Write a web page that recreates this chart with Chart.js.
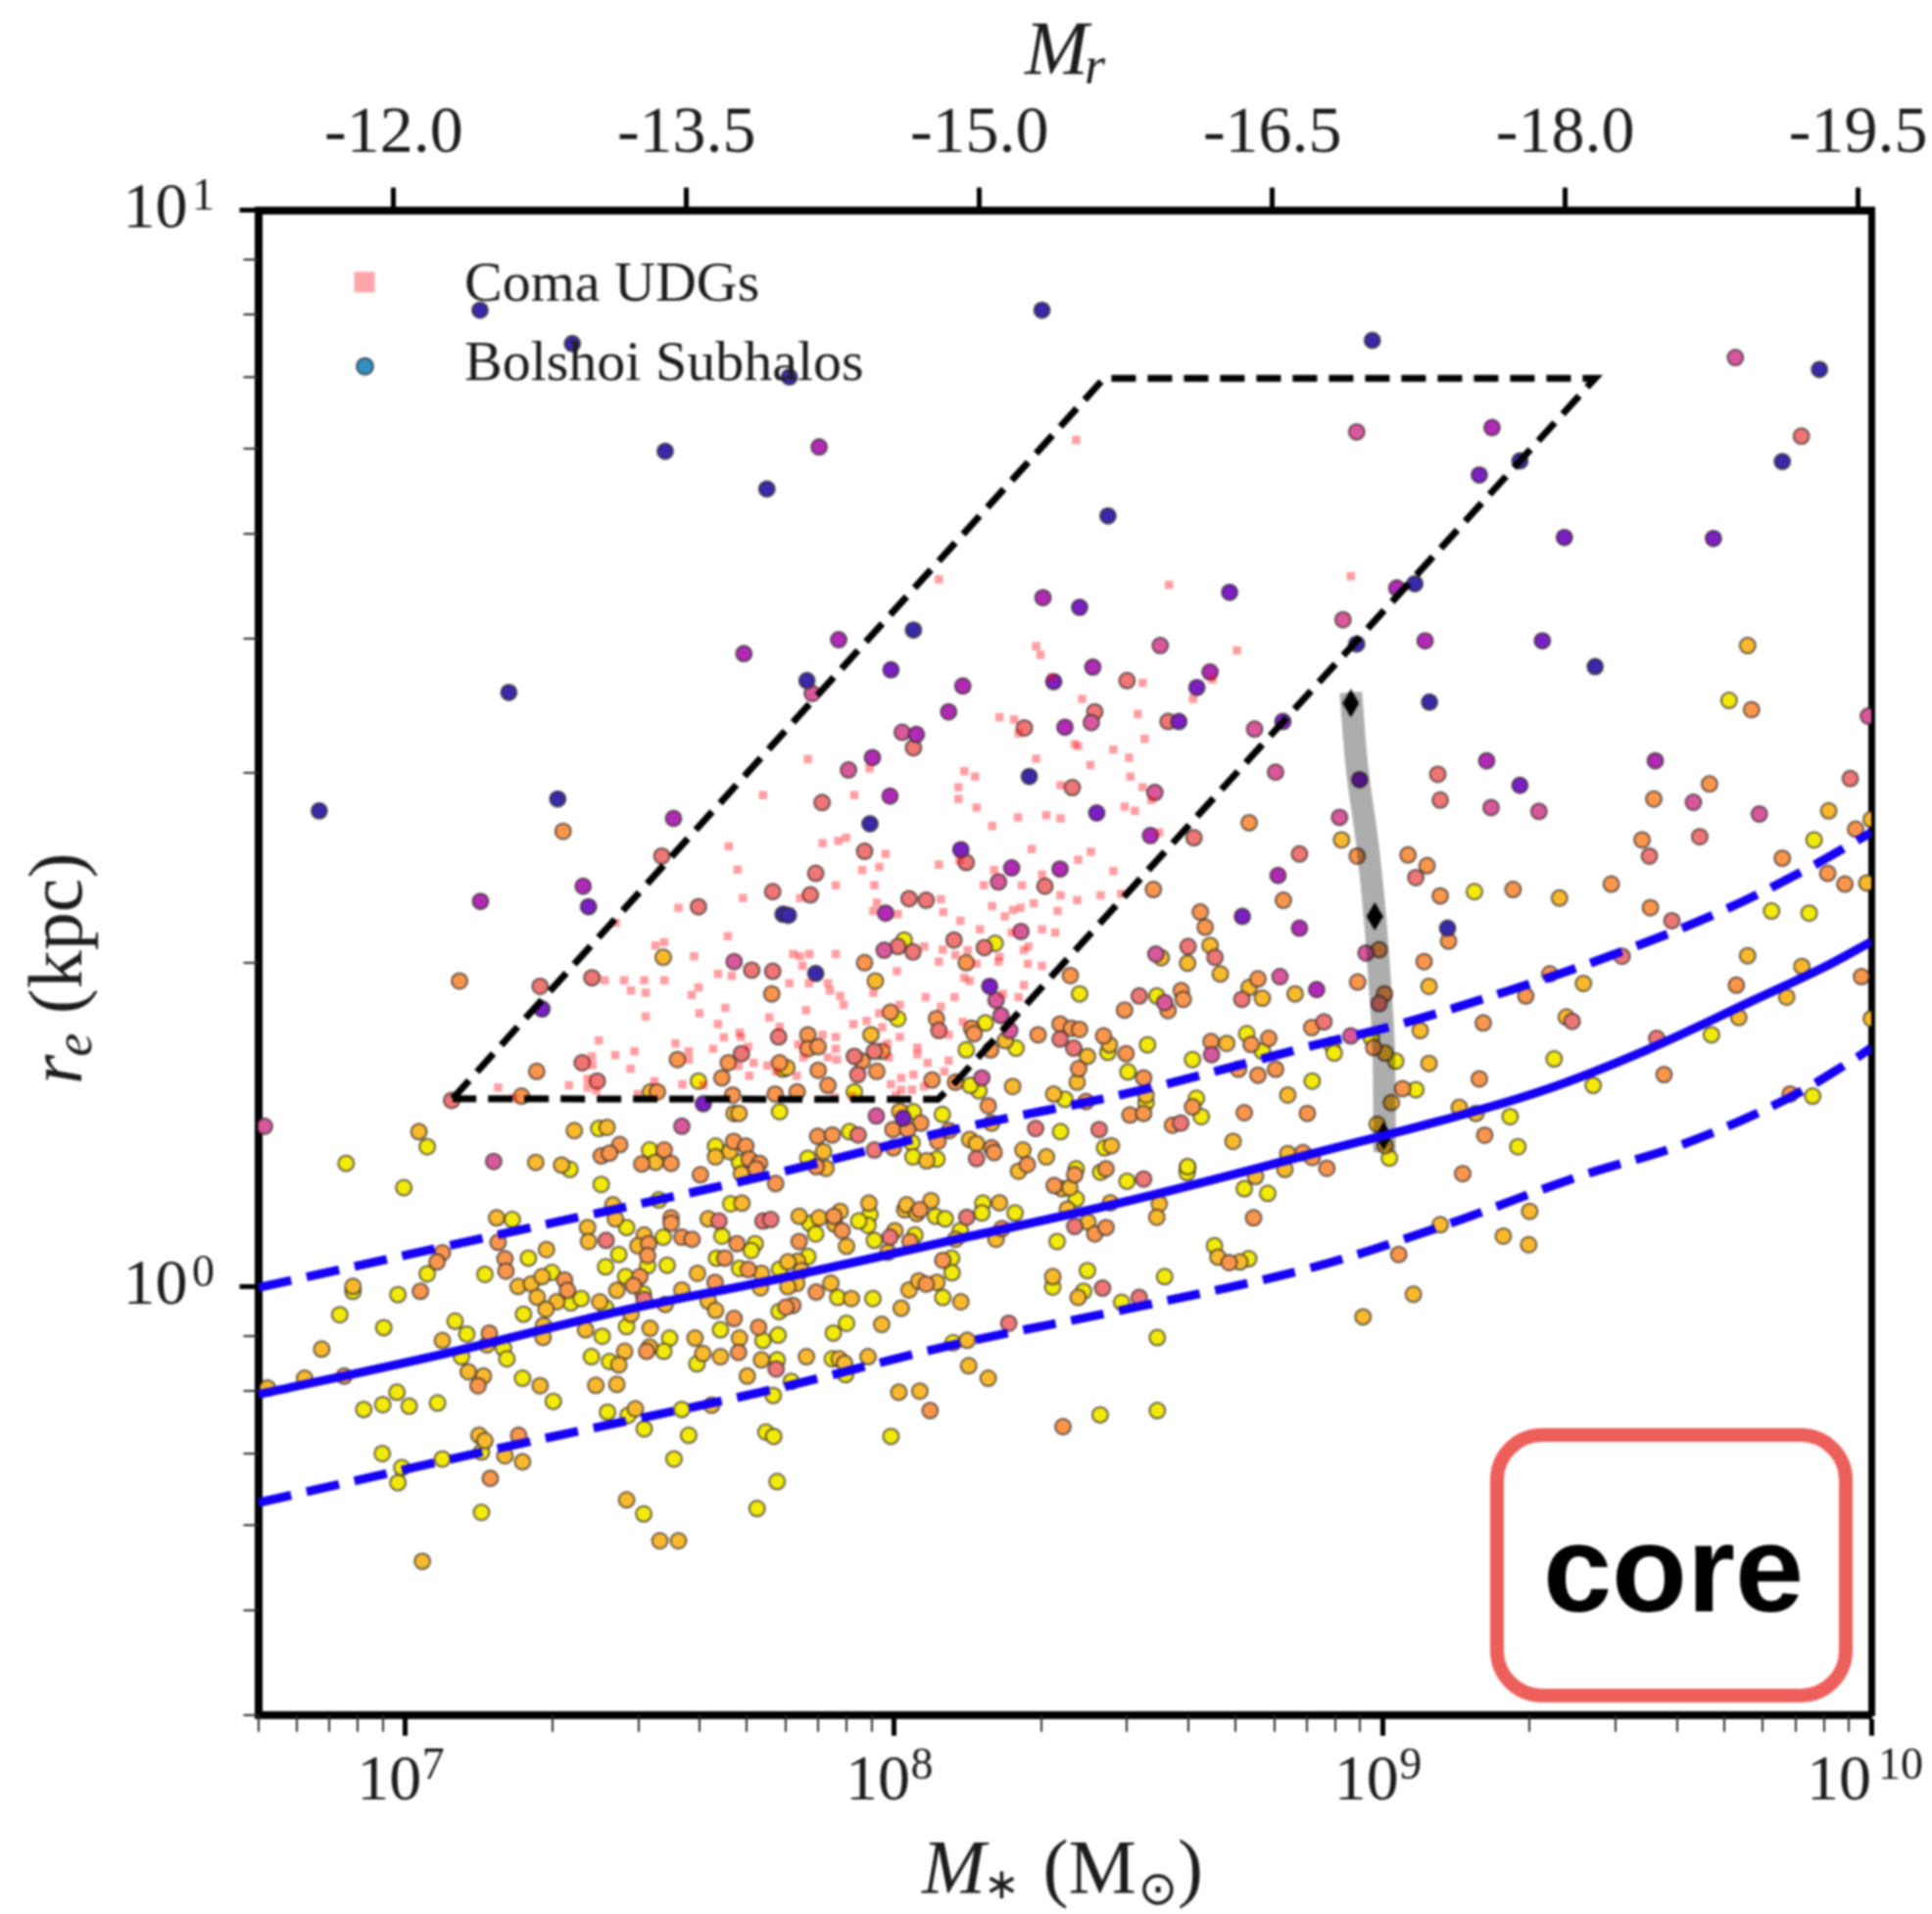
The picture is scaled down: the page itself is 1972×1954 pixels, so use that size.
<!DOCTYPE html>
<html><head><meta charset="utf-8">
<style>html,body{margin:0;padding:0;background:#fff}canvas{display:block;filter:blur(0.8px)}</style>
<script src="https://cdn.jsdelivr.net/npm/chart.js@4/dist/chart.umd.js"></script>
</head><body><canvas id="c" width="1972" height="1954"></canvas>
<script>
// All pairs are [log10 stellar mass, log10 effective radius]
const indigo=[[7.153,.907],[7.342,.876],[7.532,.776],[7.740,.741],[7.786,.845],[8.303,.907],[8.438,.716],[8.040,.610],[7.822,.563],[8.979,.879],[9.281,.767],[9.894,.852],[9.818,.7665],[9.066,.653],[8.947,.597],[9.435,.576],[7.212,.552],[6.824,.442],[7.312,.453],[7.773,.346],[7.951,.430],[7.784,.345],[8.277,.474],[9.096,.543],[9.133,.333],[7.840,.291]];
const purple=[[8.380,.631],[8.687,.645],[7.994,.573],[8.327,.562],[8.620,.5565],[9.198,.754],[9.372,.696],[9.677,.695],[9.327,.600],[7.375,.353],[7.280,.258],[7.610,.170],[8.137,.406],[8.583,.525],[8.415,.440],[8.796,.525],[8.713,.344],[8.196,.279],[8.019,.1565],[9.281,.4657],[8.953,.471]];
const magenta=[[7.693,.588],[7.847,.780],[8.305,.640],[7.887,.601],[8.407,.5755],[8.647,.571],[8.141,.558],[9.224,.798],[9.029,.649],[9.087,.600],[7.549,.435],[7.364,.372],[7.154,.358],[8.112,.534],[8.046,.513],[7.956,.4915],[7.992,.4557],[7.983,.347],[8.241,.389],[8.340,.388],[8.350,.5197],[8.525,.419],[8.786,.382],[8.830,.333],[8.865,.276],[9.213,.4885],[9.558,.4885]];
const pink=[[8.545,.5955],[8.947,.794],[9.722,.863],[8.919,.6195],[7.673,.302],[6.712,.149],[7.181,.1164],[7.566,.149],[7.833,.551],[8.017,.515],[7.907,.480],[8.214,.376],[8.404,.524],[8.534,.459],[8.738,.518],[8.781,.478],[8.260,.330],[7.980,.3126],[8.209,.266],[8.219,.252],[8.536,.309],[8.790,.288],[8.554,.264],[8.237,.238],[8.650,.2156],[7.964,.1586],[8.180,.194],[9.222,.445],[9.320,.4415],[8.912,.436],[9.636,.450],[9.771,.439],[8.966,.310],[8.935,.233],[9.994,.530]];
const salmon=[[8.477,.563],[9.857,.790],[7.525,.400],[7.600,.353],[7.752,.367],[7.709,.294],[7.752,.293],[7.276,.279],[7.382,.287],[7.764,.232],[7.688,.2165],[7.362,.208],[7.393,.191],[7.095,.173],[7.411,.043],[7.489,-.012],[7.642,.061],[7.732,.061],[7.748,.0624],[7.759,-.0765],[8.040,.5006],[7.853,.4497],[7.940,.4045],[7.840,.384],[7.829,.364],[8.031,.3605],[8.066,.359],[8.148,.394],[8.309,.372],[8.267,.519],[8.411,.534],[8.561,.525],[8.365,.4636],[8.614,.417],[8.830,.402],[8.123,.322],[8.185,.315],[8.008,.316],[8.039,.311],[8.602,.316],[8.657,.306],[8.712,.267],[8.502,.270],[8.092,.238],[8.340,.230],[8.368,.2216],[7.926,.197],[7.919,.214],[7.960,.2186],[8.587,.152],[8.290,.147],[8.420,.146],[7.927,.141],[7.960,.127],[8.169,.119],[8.511,.100],[8.149,.0645],[8.370,.056],[7.992,.046],[8.235,-.034],[8.427,-.0013],[8.502,-.010],[8.880,.246],[9.113,.476],[9.118,.452],[9.957,.472],[9.649,.418],[9.546,.400],[9.068,.380],[9.592,.340],[9.490,.307],[8.993,.263],[9.388,.2465],[9.561,.2307]];
const orange=[[7.323,.423],[7.111,.284],[7.750,.272],[7.661,.208],[7.557,.211],[7.269,.200],[7.648,.194],[7.766,.208],[7.238,.177],[7.516,.181],[7.670,.178],[7.757,.179],[7.439,.132],[7.401,.1215],[7.418,.124],[7.530,.127],[7.484,.114],[7.544,.1146],[7.672,.135],[7.697,.1306],[7.704,.1185],[7.725,.1146],[7.718,.1094],[7.604,.104],[7.758,.0958],[7.544,.064],[7.544,.059],[7.566,.046],[7.587,.044],[7.679,.040],[7.498,.040],[7.496,.029],[7.076,.0315],[7.065,.023],[7.190,.0412],[7.204,.026],[7.206,.0145],[7.031,-.0043],[7.172,-.043],[6.875,-.083],[7.149,-.092],[7.232,-.138],[7.174,-.178],[7.326,.0063],[7.332,-.0034],[7.480,.0094],[7.467,.001],[7.634,.004],[7.673,-.0295],[7.723,-.0376],[7.494,-.060],[7.682,-.061],[7.702,.016],[7.654,.0266],[8.727,.431],[8.531,.369],[8.797,.359],[8.627,.348],[8.637,.334],[7.940,.301],[8.148,.301],[8.361,.289],[8.745,.286],[8.588,.275],[8.592,.267],[8.561,.2565],[8.472,.257],[7.993,.255],[8.087,.249],[8.159,.240],[8.164,.235],[8.198,.220],[8.295,.234],[8.340,.244],[8.363,.240],[8.380,.239],[8.429,.233],[8.475,.2165],[8.378,.2025],[8.511,.194],[8.649,.2277],[8.731,.225],[8.767,.2307],[8.705,.202],[8.745,.1965],[8.781,.202],[8.855,.2407],[8.393,.172],[8.193,.168],[8.611,.167],[8.483,.1595],[8.511,.161],[8.717,.1616],[8.846,.161],[8.570,.150],[8.055,.152],[7.998,.146],[8.028,.146],[8.113,.145],[8.126,.190],[8.078,.192],[7.865,.187],[7.802,.181],[7.845,.201],[7.965,.200],[7.935,.2095],[7.976,.2186],[7.824,.234],[7.824,.221],[7.845,.223],[7.844,.1397],[7.874,.141],[7.841,.1115],[7.999,.129],[8.090,.135],[8.200,.129],[8.205,.1246],[8.273,.1134],[8.434,.1094],[8.370,.104],[8.328,.094],[8.837,.1245],[8.856,.120],[8.886,.110],[8.736,.064],[8.411,.049],[8.434,.055],[8.221,.054],[8.053,.0715],[7.877,.0655],[7.894,.052],[7.806,.042],[8.033,.042],[7.841,-.005],[8.066,.0024],[8.100,.0245],[7.793,-.0173],[7.779,-.019],[8.074,-.115],[8.346,-.130],[8.686,.0224],[8.948,.400],[9.755,.536],[9.555,.453],[9.669,.467],[9.531,.415],[9.968,.425],[9.818,.398],[9.052,.401],[9.091,.391],[9.118,.363],[9.267,.369],[9.468,.374],[9.911,.384],[9.946,.374],[9.548,.352],[9.135,.321],[8.993,.313],[9.085,.302],[8.949,.283],[9.342,.2905],[9.724,.280],[9.980,.288],[9.004,.272],[9.293,.270],[9.206,.245],[8.982,.222],[9.576,.197],[9.198,.193],[9.041,.184],[9.209,.1407],[9.164,.105],[9.834,.179],[9.033,.030]];
const gold=[[9.747,.5955],[7.528,.306],[7.502,.181],[7.673,.161],[7.683,.161],[7.028,.144],[7.267,.1155],[7.346,.145],[7.413,.148],[7.320,.113],[7.512,.1155],[7.664,.1255],[7.635,.1206],[7.688,.105],[7.689,.0776],[7.187,.064],[7.425,.076],[7.430,.063],[7.373,.055],[7.375,.042],[7.489,.048],[7.620,.063],[7.476,.038],[7.289,.0345],[6.893,.0003],[6.829,-.058],[7.076,-.050],[7.167,-.054],[6.794,-.085],[6.718,-.094],[7.129,-.079],[7.160,-.083],[7.276,-.092],[7.151,-.138],[7.163,-.143],[7.204,-.157],[7.240,-.1626],[7.035,-.255],[7.471,-.1134],[7.627,-.110],[7.453,-.198],[7.521,-.236],[7.559,-.236],[7.231,.0003],[7.258,.0027],[7.280,.0094],[7.270,-.0097],[7.310,-.014],[7.288,-.021],[7.283,-.036],[7.282,-.047],[7.369,-.040],[7.398,-.014],[7.433,-.0034],[7.532,-.0164],[7.566,-.003],[7.598,.0124],[7.620,-.0134],[7.635,-.022],[7.462,-.0255],[7.501,-.0386],[7.500,-.056],[7.449,-.060],[7.437,-.0725],[7.390,-.0916],[7.433,-.0907],[7.593,-.0477],[7.609,-.062],[7.645,-.065],[7.684,-.0477],[7.729,-.068],[7.700,-.083],[7.729,.0124],[7.727,-.001],[8.547,.3056],[8.647,.317],[8.601,.3005],[7.962,.284],[8.668,.2905],[8.727,.278],[8.821,.272],[8.754,.268],[8.228,.2286],[8.396,.214],[8.441,.2247],[8.375,.190],[7.781,.2035],[7.953,.234],[8.681,.226],[8.243,.186],[8.327,.179],[8.806,.178],[8.516,.178],[8.012,.163],[8.200,.152],[8.694,.135],[8.445,.131],[7.856,.1255],[7.861,.110],[8.067,.117],[8.155,.1367],[8.169,.133],[8.264,.127],[8.312,.1206],[8.255,.1073],[8.344,.091],[8.360,.092],[8.355,.072],[8.443,.078],[8.543,.077],[8.538,.0645],[8.806,.1237],[8.800,.109],[8.740,.1024],[8.397,.060],[8.209,.044],[8.126,.044],[8.216,.078],[8.076,.080],[8.022,.0715],[8.026,.076],[8.047,.068],[7.949,.0776],[7.890,.070],[7.847,.064],[7.806,.0655],[7.879,.058],[7.903,.0376],[8.002,.052],[7.988,.032],[7.803,.0236],[7.783,.023],[7.811,.015],[7.801,.003],[7.783,0],[7.871,.0033],[7.913,-.011],[8.015,-.020],[8.031,-.003],[8.051,.0054],[8.088,.004],[8.137,-.014],[7.975,-.035],[7.821,-.065],[7.888,-.067],[7.899,-.071],[7.947,-.065],[8.150,-.0498],[8.153,-.0734],[8.193,-.085],[8.010,-.098],[8.053,-.097],[8.325,.0094],[8.377,-.010],[8.663,.0275],[8.708,.023],[9.913,.442],[8.916,.415],[9.362,.361],[9.991,.375],[9.095,.279],[9.411,.2817],[9.747,.3075],[9.858,.2975],[9.077,.238],[9.005,.217],[9.095,.2074],[9.376,.2505],[9.729,.250],[9.827,.269],[9.018,.171],[9.157,.1665],[9.191,.161],[8.989,.151],[9.005,.131],[10,.434],[10,.249],[9.301,.070],[9.118,.0576],[9.247,.047],[9.299,.039],[9.063,-.007],[8.960,-.028]];
const yellow=[[7.600,.191],[7.773,.202],[7.766,.1625],[7.396,.147],[7.045,.130],[6.879,.1146],[7.337,.109],[7.500,.127],[7.635,.1306],[7.684,.1155],[7.401,.095],[7.666,.077],[6.997,.092],[7.219,.0624],[7.519,.0806],[7.453,.055],[7.528,.046],[7.648,.047],[7.716,.040],[7.708,.0336],[7.496,.0194],[7.536,.020],[7.252,.0266],[7.163,.0115],[7.045,.012],[6.893,-.0043],[6.985,-.0073],[6.866,-.026],[6.956,-.038],[7.102,-.032],[7.126,-.044],[7.201,-.057],[7.208,-.067],[7.115,-.065],[7.240,-.085],[7.303,-.1065],[6.983,-.098],[6.954,-.1095],[6.915,-.114],[7.008,-.111],[7.066,-.108],[7.156,-.1535],[6.953,-.155],[6.993,-.168],[6.985,-.182],[7.076,-.160],[7.156,-.2096],[7.414,-.1165],[7.456,-.1195],[7.489,-.132],[7.566,-.114],[7.580,-.138],[7.550,-.160],[7.488,-.211],[7.720,-.206],[7.761,-.181],[7.738,-.135],[7.754,-.139],[7.753,-.101],[7.300,.0133],[7.339,-.015],[7.360,-.011],[7.242,-.0255],[7.403,-.046],[7.410,-.0195],[7.410,.0185],[7.437,.030],[7.451,.0094],[7.487,-.0064],[7.645,-.040],[7.453,-.037],[7.541,-.0477],[7.529,-.060],[7.381,-.065],[7.418,-.0695],[7.597,-.0716],[7.732,-.050],[7.763,-.045],[7.761,-.068],[7.684,.017],[7.637,.0266],[7.766,.0163],[7.765,-.023],[8.207,.319],[8.021,.322],[8.380,.272],[8.538,.270],[8.008,.249],[8.187,.245],[8.250,.2216],[8.148,.220],[8.438,.2177],[8.519,.2247],[8.479,.1995],[8.611,.211],[8.722,.235],[8.754,.2186],[8.856,.191],[8.896,.2247],[8.350,.174],[8.619,.175],[8.629,.158],[8.516,.171],[8.601,.111],[8.431,.129],[8.341,.144],[8.040,.1625],[8.099,.160],[8.174,.182],[8.156,.187],[7.919,.181],[7.909,.144],[7.824,.1194],[8.037,.1337],[8.039,.1206],[8.088,.1185],[8.373,.1094],[8.423,.1064],[8.373,.0815],[8.477,.098],[8.600,.106],[8.601,.1115],[8.717,.091],[8.765,.0867],[8.334,.042],[8.136,.052],[8.182,.0776],[8.180,.0685],[8.248,.0685],[8.085,.0655],[8.105,.063],[7.951,.067],[7.947,.057],[7.928,.061],[7.828,.059],[7.840,.049],[7.960,.043],[8.043,.048],[7.824,.028],[7.885,-.010],[7.957,-.011],[8.100,-.010],[8.118,.0265],[8.119,.013],[7.903,-.034],[7.876,-.043],[7.874,-.067],[7.901,-.0816],[7.790,-.088],[8.121,-.052],[7.994,-.139],[8.422,-.119],[8.539,-.115],[8.539,-.0473],[8.325,-.0003],[8.396,.015],[8.388,-.0043],[8.466,-.0145],[8.554,.0094],[8.656,.038],[8.726,.026],[9.709,.5446],[9.188,.367],[9.796,.349],[9.873,.347],[9.883,.415],[8.977,.231],[9.027,.2095],[8.901,.217],[9.351,.2116],[9.673,.234],[9.431,.187],[9.068,.183],[9.261,.158],[9.014,.1195],[9.277,.130],[9.880,.177]];
const comaUDGs=[[8.373,.7865],[8.092,.657],[8.563,.652],[8.291,.595],[8.300,.587],[8.702,.591],[8.509,.561],[8.323,.566],[8.652,.564],[8.935,.660],[7.732,.4567],[7.662,.409],[7.680,.3875],[7.691,.361],[7.559,.352],[7.431,.338],[7.660,.3257],[7.512,.317],[7.530,.320],[7.591,.307],[7.640,.2905],[7.668,.2887],[7.408,.2847],[7.448,.2847],[7.489,.2847],[7.530,.2847],[7.462,.275],[7.492,.273],[7.600,.278],[7.586,.271],[7.492,.251],[7.602,.254],[7.655,.259],[7.640,.244],[7.745,.250],[7.766,.2414],[7.396,.2286],[7.430,.215],[7.469,.2186],[7.553,.226],[7.580,.2186],[7.580,.211],[7.630,.221],[7.652,.2317],[7.684,.236],[7.687,.232],[7.702,.223],[7.713,.208],[7.741,.2056],[7.682,.205],[7.704,.196],[7.461,.2025],[7.383,.206],[7.382,.214],[7.190,.185],[7.335,.187],[7.373,.193],[7.373,.185],[7.391,.182],[7.510,.191],[7.567,.188],[7.610,.187],[7.476,.179],[7.222,.175],[7.759,.200],[8.385,.546],[8.612,.546],[8.216,.529],[8.246,.527],[8.255,.514],[8.499,.532],[8.513,.509],[8.370,.504],[8.377,.502],[8.449,.499],[8.481,.4915],[8.291,.4906],[8.402,.4845],[7.824,.490],[7.950,.4815],[8.144,.479],[8.166,.474],[8.484,.474],[8.509,.464],[8.341,.466],[8.132,.464],[8.132,.453],[7.919,.4567],[8.527,.452],[8.169,.445],[8.472,.446],[8.493,.442],[8.254,.436],[8.312,.438],[8.341,.435],[8.201,.428],[8.543,.422],[7.854,.412],[7.886,.414],[7.902,.417],[8.282,.4066],[7.983,.402],[8.403,.404],[8.377,.3966],[8.092,.392],[7.935,.387],[7.970,.390],[8.134,.396],[8.205,.387],[8.449,.386],[8.303,.383],[7.881,.373],[7.960,.373],[8.184,.373],[8.262,.373],[8.341,.3636],[8.423,.3636],[8.465,.365],[8.375,.359],[8.096,.360],[7.808,.361],[7.965,.3567],[8.201,.3535],[8.286,.356],[8.259,.352],[8.244,.350],[8.227,.344],[8.335,.349],[8.101,.348],[8.008,.346],[7.958,.349],[8.136,.340],[8.176,.332],[8.303,.332],[8.330,.329],[8.241,.329],[8.062,.316],[8.275,.316],[8.266,.3126],[8.100,.313],[8.126,.308],[8.151,.3126],[8.216,.3066],[7.794,.309],[7.808,.307],[7.827,.309],[7.881,.309],[8.092,.302],[8.169,.300],[8.214,.302],[8.274,.300],[8.303,.298],[7.813,.298],[8.006,.293],[7.786,.282],[7.826,.282],[7.865,.282],[8.144,.287],[8.155,.284],[7.869,.275],[7.890,.270],[7.897,.262],[7.958,.273],[8.065,.269],[8.124,.269],[8.223,.272],[8.255,.269],[8.266,.280],[8.012,.262],[8.096,.260],[7.820,.257],[7.970,.254],[7.917,.244],[7.944,.247],[7.976,.241],[8.012,.232],[8.141,.246],[8.112,.234],[7.881,.232],[7.854,.234],[7.881,.221],[7.804,.225],[7.987,.226],[8.048,.222],[8.048,.216],[7.865,.213],[7.883,.211],[7.815,.213],[7.990,.213],[8.069,.208],[8.112,.210],[7.801,.196],[8.103,.200],[8.015,.194],[8.040,.197],[7.994,.188],[8.037,.183],[8.015,.183],[8.062,.186],[8.004,.178],[7.879,.176],[7.915,.177]];
const fitMedian=[[6.700,-.100],[7.082,-.062],[7.441,-.0225],[7.770,.008],[8.133,.0445],[8.491,.081],[8.895,.128],[9.113,.1535],[9.327,.182],[9.541,.220],[9.757,.2656],[9.900,.296],[10,.3205]];
const fitUpper=[[6.700,-.0007],[7.226,.0518],[7.727,.102],[8.133,.147],[8.491,.181],[8.849,.223],[9.040,.2445],[9.256,.2747],[9.470,.308],[9.685,.347],[9.864,.3869],[10,.422]];
const fitLower=[[6.700,-.2005],[7.226,-.1467],[7.727,-.098],[8.133,-.0528],[8.491,-.0194],[8.849,.0170],[9.116,.0553],[9.399,.102],[9.613,.132],[9.828,.1746],[9.964,.211],[10,.222]];
const selectionBox=[[7.097,.1746],[8.430,.8438],[9.435,.8438],[8.126,.190],[8.090,.174],[7.097,.1746]];
const trackBand=[[8.935,.552],[8.948,.481],[8.969,.411],[8.984,.345],[8.994,.284],[9.002,.223],[9.004,.125]];
const trackMarks=[[8.935,.542],[8.984,.344],[9.002,.140]];
const xMajor=[1e7,1e8,1e9,1e10];
const xMinor=[5e6,6e6,7e6,8e6,9e6,2e7,3e7,4e7,5e7,6e7,7e7,8e7,9e7,2e8,3e8,4e8,5e8,6e8,7e8,8e8,9e8,2e9,3e9,4e9,5e9,6e9,7e9,8e9,9e9];
const yMajor=[1,10];
const yMinor=[.4,.5,.6,.7,.8,.9,2,3,4,5,6,7,8,9];
const magTicks=[-12,-13.5,-15,-16.5,-18,-19.5];
const xExponents={1e7:'7',1e8:'8',1e9:'9',1e10:'10'};
const yExponents={1:'0',10:'1'};
const seriesNames=['Coma UDGs','Bolshoi Subhalos'];

const SERIF='"Liberation Serif"';
const INK='#1c1c1c';
const pts=a=>a.map(([x,y])=>({x:10**x,y:10**y}));
const thin=document.createElement('canvas');thin.width=17;thin.height=29;
(()=>{const g=thin.getContext('2d');g.fillStyle='#000';g.beginPath();g.moveTo(8.5,0);g.lineTo(17,14.5);g.lineTo(8.5,29);g.lineTo(0,14.5);g.closePath();g.fill();})();

const dots=(name,data,color)=>({label:name,data:pts(data),backgroundColor:color,borderColor:'rgba(50,40,40,.72)',borderWidth:2,pointRadius:8,order:20});
const curve=(name,data,color,width,dash,order,tension)=>({label:name,data:pts(data),showLine:true,borderColor:color,borderWidth:width,borderDash:dash,pointRadius:0,tension:tension||0,order,fill:false,borderCapStyle:'butt'});
const fixSize=(w,h)=>s=>{if(w!=null)s.width=w;if(h!=null)s.height=h;s.paddingLeft=s.paddingRight=s.paddingTop=s.paddingBottom=0;};
const runsText=(g,runs,x,y)=>{for(const r of runs){g.font=r.font;g.fillText(r.t,x+(r.dx||0),y+(r.dy||0));x+=g.measureText(r.t).width+(r.dx||0)+(r.gap||0);}};

const decor={id:'decor',afterDraw(c){
  const g=c.ctx,X=c.scales.x,Y=c.scales.y,a=c.chartArea;
  g.save();
  g.strokeStyle='#2a2a2a';g.lineWidth=2;
  g.beginPath();
  for(const v of xMinor){const p=Math.round(X.getPixelForValue(v));g.moveTo(p,a.bottom);g.lineTo(p,a.bottom+17);}
  for(const v of yMinor){const p=Math.round(Y.getPixelForValue(v));g.moveTo(a.left,p);g.lineTo(a.left-15,p);}
  g.stroke();
  // tick-label exponents
  g.fillStyle=INK;g.textBaseline='alphabetic';g.textAlign='left';g.font='46px '+SERIF;
  for(const v of xMajor){const t=xExponents[v];g.fillText(t,X.getPixelForValue(v)+(t.length>1?7:17),1816);}
  for(const v of yMajor){g.fillText(yExponents[v],196,Y.getPixelForValue(v)-1);}
  // legend
  g.fillStyle='#ffa6aa';g.fillRect(361.5,277.5,21,21);
  g.fillStyle='#2f90c4';g.strokeStyle='rgba(50,40,40,.72)';g.lineWidth=2;g.beginPath();g.arc(372.5,374,8.5,0,7);g.fill();g.stroke();
  g.fillStyle=INK;
  g.font='58px '+SERIF;
  g.fillText(seriesNames[0],474,307);
  g.fillText(seriesNames[1],474,388);
  // axis titles
  const it='italic 78px '+SERIF,ro='78px '+SERIF;
  runsText(g,[{t:'M',font:it},{t:'r',font:'italic 54px '+SERIF,dy:10,dx:-4}],1046,75);
  runsText(g,[{t:'M',font:it},{t:'∗',font:'44px '+SERIF,dy:6,dx:-2},{t:' (M',font:ro,dx:4},{t:'⊙',font:'48px "DejaVu Sans"',dy:12,dx:2},{t:')',font:ro,dx:0}],941,1932);
  g.save();g.translate(83,1107);g.rotate(-Math.PI/2);
  runsText(g,[{t:'r',font:it},{t:'e',font:'italic 54px '+SERIF,dy:10,dx:-2},{t:' (kpc)',font:ro}],0,0);
  g.restore();
  // annotation
  g.strokeStyle='#ec5f5b';g.lineWidth=14;g.beginPath();g.roundRect(1528,1465,356,266,46);g.stroke();
  g.fillStyle='#000';g.font='bold 126px "Liberation Sans"';g.textAlign='center';g.fillText('core',1708,1645);
  g.restore();
}};

new Chart(document.getElementById('c'),{
  type:'scatter',
  data:{datasets:[
    curve('Median fit',fitMedian,'#1500f5',9,[],1,.35),
    curve('Upper scatter',fitUpper,'#1500f5',9,[34,16],1,.35),
    curve('Lower scatter',fitLower,'#1500f5',9,[34,16],1,.35),
    curve('Selection',selectionBox,'#000',7,[25,12],2,0),
    {label:'Track points',data:pts(trackMarks),pointStyle:thin,pointRadius:12,backgroundColor:'#000',borderWidth:0,order:3},
    curve('Track',trackBand,'rgba(0,0,0,.32)',23,[],4,.4),
    {label:seriesNames[0],data:pts(comaUDGs),pointStyle:'rect',pointRadius:6,backgroundColor:'rgba(255,0,10,.38)',borderWidth:0,order:5},
    dots('indigo',indigo,'#3a29a8'),dots('purple',purple,'#7a1fc2'),dots('magenta',magenta,'#b02ab6'),dots('pink',pink,'#d9589c'),
    dots('salmon',salmon,'#ee7674'),dots('orange',orange,'#f9964c'),dots('gold',gold,'#f9b92c'),dots('yellow',yellow,'#f2ea0a')
  ]},
  options:{
    responsive:false,animation:false,events:[],
    layout:{padding:0},
    plugins:{legend:{display:false},tooltip:{enabled:false}},
    scales:{
      x:{type:'logarithmic',position:'bottom',min:5e6,max:1e10,
        afterBuildTicks:s=>{s.ticks=xMajor.map(v=>({value:v,major:true}));},
        afterFit:fixSize(null,203),
        border:{width:8,color:'#000'},
        grid:{drawOnChartArea:false,tickColor:'#000',tickWidth:5,tickLength:21},
        ticks:{autoSkip:false,maxRotation:0,padding:8,color:INK,font:{family:SERIF,size:66},callback:v=>v===1e10?'10    ':'10  '}},
      x2:{type:'linear',position:'top',reverse:true,min:-19.567,max:-11.306,
        afterBuildTicks:s=>{s.ticks=magTicks.map(v=>({value:v}));},
        afterFit:fixSize(null,214.5),
        border:{width:8,color:'#000'},
        grid:{drawOnChartArea:false,tickColor:'#000',tickWidth:5,tickLength:23},
        ticks:{autoSkip:false,maxRotation:0,padding:14,color:INK,font:{family:SERIF,size:68},callback:v=>v.toFixed(1)}},
      y:{type:'logarithmic',position:'left',min:.4,max:10,
        afterBuildTicks:s=>{s.ticks=yMajor.map(v=>({value:v,major:true}));},
        afterFit:fixSize(263.5,null),
        border:{width:8,color:'#000'},
        grid:{drawOnChartArea:false,tickColor:'#000',tickWidth:5,tickLength:19},
        ticks:{autoSkip:false,padding:53,color:INK,font:{family:SERIF,size:66},callback:()=>'10'}},
      y2:{type:'logarithmic',position:'right',min:.4,max:10,
        afterBuildTicks:s=>{s.ticks=[];},
        afterFit:fixSize(62,null),
        border:{width:7,color:'#000'},
        grid:{drawOnChartArea:false,drawTicks:false},
        ticks:{display:false}}
    }
  },
  plugins:[decor]
});
</script></body></html>
